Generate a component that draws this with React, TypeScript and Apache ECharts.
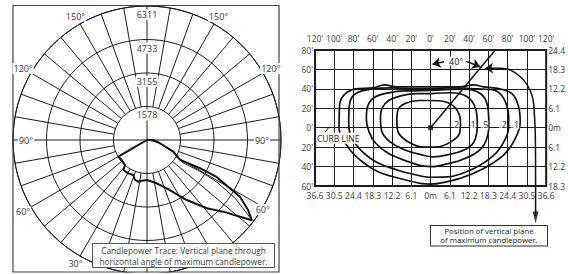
import React, { useEffect, useRef } from "react";
import * as echarts from "echarts";

// ---------- Left panel: candlepower trace (polar) ----------
const candelaTicks = [1578, 3155, 4733, 6311];
const candelaMax = 6311;
const angleLabelValues = [150, 120, 90, 60, 30];
// vertical angle from nadir (+ right side, - left side) and candela
const traceAngle = [90, 90, 76, 66, 59, 62, 62, 58.6, 55.3, 52.6, 50.5, 46.8, 41.2, 33.5, 22.2, 12.6, 0, -7.4, -11.8, -16.7, -21.4, -29.3, -38.3, -41.3, -51.7, -59.8, -60, -90];
const traceCandela = [0, 280, 630, 1356, 1820, 2830, 3710, 5130, 5790, 6220, 5680, 4930, 4275, 3390, 2460, 2090, 1884, 1933, 2006, 1966, 1770, 1800, 1800, 1570, 1520, 1560, 700, 0];
const trace2Angle = [90, 80, 66, 57.5, 59.5, 59, 56.5, 53.5, 52.6];
const trace2Candela = [0, 500, 1300, 2000, 2900, 3800, 5000, 5900, 6220];

// ---------- Right panel: isofootcandle plot ----------
const feetXLabels = ["120'", "100'", "80'", "60'", "40'", "20'", "0'", "20'", "40'", "60'", "80'", "100'", "120'"];
const meterXLabels = ["36.6", "30.5", "24.4", "18.3", "12.2", "6.1", "0m", "6.1", "12.2", "18.3", "24.4", "30.5", "36.6"];
const feetYLabels = ["60'", "40'", "20'", "0'", "20'", "40'", "60'", "80'"];
const meterYLabels = ["18.3", "12.2", "6.1", "0m", "6.1", "12.2", "18.3", "24.4"];

const contour2 = [[0, 28], [14, 27], [26, 20], [31, 6], [30, -6], [21, -14.6], [7, -19.8], [0, -20], [-9, -19.8], [-23, -14.6], [-33, -6], [-35, 6], [-34, 18], [-26.5, 25], [-12, 28], [0, 28]];
const contour1 = [[0, 35], [21, 36], [38, 31.8], [46.7, 19.7], [48.5, 2.6], [45, -14.6], [34.7, -23], [17.5, -28], [3, -30], [-9, -28], [-26.5, -23], [-42, -14.6], [-50.5, -4.3], [-52, 9.5], [-50.5, 19.7], [-43.6, 28], [-30, 33], [-15, 35], [0, 35]];
const contour05 = [[0, 38.5], [20, 39.5], [35, 39.7], [52, 35], [59, 23], [60.5, 2.6], [57, -14.6], [48.5, -25], [31, -33.5], [10.6, -38.7], [3, -40], [-10, -39], [-23, -35], [-43.6, -26.6], [-57, -16], [-64, -4], [-66.7, 9.5], [-65, 23], [-57, 32], [-37, 37], [-20, 38], [0, 38.5]];
const contour02 = [[0, 40], [20, 41], [48, 40], [66, 38.6], [76, 30], [81, 12], [81, 0], [76, -14.6], [66, -28], [45, -42], [17.5, -50.7], [0, -51], [-9, -50], [-33, -44], [-57, -35], [-74.5, -21], [-83, -7.7], [-85, 6], [-84, 25], [-78, 35], [-60, 40], [-40, 41], [-20, 40], [0, 40]];
const contour01 = [[0, 42], [30, 42], [45, 44], [55, 42], [72, 40], [84.5, 35], [91, 23], [93, 6], [88, -11], [76, -28], [55, -42], [31, -52], [0, -58], [-9, -57.5], [-33, -52], [-54, -45.5], [-71, -35], [-85, -21], [-95, -1], [-94.5, 23], [-90, 33.5], [-78, 40], [-60, 41], [-48, 44], [-35, 42], [-15, 42], [0, 42]];
const contourNames = ["2", "1", ".5", ".2", ".1"];
const contourLabelPos = [[27, 3], [44, 3], [56, 3], [75, 3], [88, 3]];
const maxPlaneAngle = 40;
const positionArrowPath = [[60, 61.2], [72, 61.3], [83, 59.3], [96.6, 49], [105.2, 33.5], [107.8, 13], [108.8, -14.6], [109, -60], [109, -91]];

const FONT = "'Open Sans', 'DejaVu Sans', sans-serif";
const INK = "#1c1c1c";
const TXT = "#3a3a3a";

export default function App() {
  const ref = useRef<HTMLDivElement>(null);
  useEffect(() => {
    const chart = echarts.init(ref.current!, null, { renderer: "svg" });
    const cx = 147, cy = 140, R = 134;
    const toPolar = (a: number) => 180 - a;
    const series: any[] = [];

    // spokes every 10 degrees, from the inner ring out
    for (let a = 0; a < 360; a += 10) {
      if (a % 90 === 0) continue;
      series.push({
        type: "line", coordinateSystem: "polar", polarIndex: 0, symbol: "none", silent: true,
        data: [[candelaTicks[0], a], [candelaMax, a]],
        lineStyle: { color: INK, width: 1 },
      });
    }
    series.push({
      type: "line", coordinateSystem: "polar", symbol: "none", silent: true,
      data: [[candelaMax, 0], [0, 0], [candelaMax, 180]], lineStyle: { color: INK, width: 1 },
    });
    series.push({
      type: "line", coordinateSystem: "polar", symbol: "none", silent: true,
      data: [[candelaMax, 90], [0, 90], [candelaMax, 270]], lineStyle: { color: INK, width: 1 },
    });
    series.push({
      type: "line", coordinateSystem: "polar", symbol: "none", silent: true,
      data: trace2Angle.map((a, i) => [trace2Candela[i], toPolar(a)]),
      lineStyle: { color: INK, width: 1 },
    });
    series.push({
      type: "line", coordinateSystem: "polar", symbol: "none", silent: true,
      data: traceAngle.map((a, i) => [traceCandela[i], toPolar(a)]),
      lineStyle: { color: "#111", width: 2 },
    });

    // right chart
    const contours = [contour2, contour1, contour05, contour02, contour01];
    contours.forEach((c) => {
      series.push({
        type: "line", xAxisIndex: 0, yAxisIndex: 0, symbol: "none", silent: true, smooth: 0.35,
        data: c, lineStyle: { color: "#111", width: 1.7 }, clip: false,
      });
    });
    const diagX = 80 * Math.tan((maxPlaneAngle * Math.PI) / 180);
    series.push({
      type: "line", xAxisIndex: 0, yAxisIndex: 0, symbol: "none", silent: true,
      data: [[0, 0], [diagX, 80]], lineStyle: { color: "#111", width: 1.5 },
      markLine: {
        silent: true, symbol: ["none", "arrow"], symbolSize: 8,
        label: { show: false },
        lineStyle: { type: "solid", color: "#111", width: 1.5 },
        data: [
          [{ coord: [14, 68] }, { coord: [2, 65.3] }],
          [{ coord: [37, 68.3] }, { coord: [51.5, 62.8] }],
          [{ coord: [64, 61.3] }, { coord: [56.5, 61] }],
        ],
      },
    });
    series.push({
      type: "line", xAxisIndex: 0, yAxisIndex: 0, symbol: "none", silent: true, smooth: 0.4, clip: false,
      data: positionArrowPath, lineStyle: { color: "#111", width: 1.5 },
    });
    series.push({
      type: "scatter", xAxisIndex: 0, yAxisIndex: 0, silent: true, clip: false,
      symbol: "triangle", symbolSize: [6, 12], symbolRotate: 180,
      data: [[109, -92.5]], itemStyle: { color: "#111" },
    });
    series.push({
      type: "scatter", xAxisIndex: 0, yAxisIndex: 0, silent: true,
      symbol: "rect", symbolSize: 5, data: [[0, 0]], itemStyle: { color: "#111" }, z: 5,
    });
    series.push({
      type: "line", xAxisIndex: 0, yAxisIndex: 0, symbol: "none", silent: true,
      data: [[-109.3, -4.3], [-105.9, 0]], lineStyle: { color: "#111", width: 1 },
    });

    const idx = (v: number, lo: number) => Math.round((v - lo) / 20);
    const axLabel = { fontSize: 8.5, fontFamily: FONT, color: TXT, showMinLabel: true, showMaxLabel: true, hideOverlap: false };

    chart.setOption({
      animation: false,
      backgroundColor: "#fff",
      polar: { center: [cx, cy], radius: R },
      radiusAxis: {
        type: "value", min: 0, max: candelaMax, interval: candelaMax / 4,
        axisLine: { show: false }, axisTick: { show: false }, axisLabel: { show: false },
        splitLine: { show: true, lineStyle: { color: INK, width: 1 } },
      },
      angleAxis: {
        type: "value", min: 0, max: 360, startAngle: 90, clockwise: true,
        axisLine: { show: true, lineStyle: { color: INK, width: 1 } },
        axisTick: { show: false }, axisLabel: { show: false }, splitLine: { show: false },
      },
      grid: { left: 315, top: 50, width: 233, height: 136, show: true, borderColor: INK, borderWidth: 2 },
      xAxis: [
        {
          type: "value", position: "bottom", min: -120, max: 120, interval: 20,
          axisLine: { show: false }, axisTick: { show: false },
          splitLine: { show: true, lineStyle: { color: INK, width: 1 } },
          axisLabel: { ...axLabel, margin: 5, formatter: (v: number) => meterXLabels[idx(v, -120)] },
        },
        {
          type: "value", position: "top", min: -120, max: 120, interval: 20,
          axisLine: { show: false }, axisTick: { show: false }, splitLine: { show: false },
          axisLabel: { ...axLabel, margin: 7, formatter: (v: number) => feetXLabels[idx(v, -120)] },
        },
      ],
      yAxis: [
        {
          type: "value", position: "left", min: -60, max: 80, interval: 20,
          axisLine: { show: false }, axisTick: { show: false },
          splitLine: { show: true, lineStyle: { color: INK, width: 1 } },
          axisLabel: { ...axLabel, margin: 2, formatter: (v: number) => feetYLabels[idx(v, -60)] },
        },
        {
          type: "value", position: "right", min: -60, max: 80, interval: 20,
          axisLine: { show: false }, axisTick: { show: false }, splitLine: { show: false },
          axisLabel: { ...axLabel, margin: 2, formatter: (v: number) => meterYLabels[idx(v, -60)] },
        },
      ],
      series,
    });

    // graphic: labels, boxes
    const px = (p: number[]) => chart.convertToPixel({ gridIndex: 0 }, p) as number[];
    const graphic: any[] = [];
    graphic.push({
      type: "rect", z: 99, silent: true,
      shape: { x: 0, y: 272.5, width: 300, height: 5 }, style: { fill: "#fff" },
    });
    graphic.push({
      type: "rect", z: 100, silent: true,
      shape: { x: 13, y: 5.5, width: 266, height: 266.5 },
      style: { fill: "none", stroke: "#444", lineWidth: 1.2 },
    });
    candelaTicks.forEach((t) => {
      graphic.push({
        type: "text", z: 100, silent: true,
        style: {
          text: String(t), x: cx, y: cy - (R * t) / candelaMax + 8.5, align: "center", verticalAlign: "middle",
          fontSize: 9, fontFamily: FONT, fill: TXT, backgroundColor: "#fff", padding: [1, 1],
        },
      });
    });
    angleLabelValues.forEach((v) => {
      [-1, 1].forEach((side) => {
        if (v === 30 && side > 0) return; // hidden by the caption box
        let rr = 143;
        let ang = v;
        if (v === 90) rr = side < 0 ? 121 : 115;
        if (v === 60 && side > 0) { rr = 135; ang = 59; }
        const t = (ang * Math.PI) / 180;
        graphic.push({
          type: "text", z: 100, silent: true,
          style: {
            text: v + "°", x: cx + side * rr * Math.sin(t), y: cy + rr * Math.cos(t),
            align: "center", verticalAlign: "middle", fontSize: 9, fontFamily: FONT, fill: TXT,
            backgroundColor: "#fff", padding: [1, 1],
          },
        });
      });
    });
    graphic.push({
      type: "rect", z: 101, silent: true,
      shape: { x: 92.5, y: 243.5, width: 182, height: 24 },
      style: { fill: "#fff", stroke: "#555", lineWidth: 1 },
    });
    ["Candlepower Trace: Vertical plane through", "horizontal angle of maximum candlepower."].forEach((line, i) => {
      graphic.push({
        type: "text", z: 102, silent: true,
        style: {
          text: line, x: 183.5, y: 250 + i * 11.5, align: "center", verticalAlign: "middle",
          fontSize: 8.3, fontFamily: FONT, fill: TXT,
        },
      });
    });
    graphic.push({
      type: "rect", z: 101, silent: true,
      shape: { x: 430.5, y: 225.5, width: 117, height: 20.5 },
      style: { fill: "#fff", stroke: "#333", lineWidth: 1 },
    });
    ["Position of vertical plane", "of maximum candlepower."].forEach((line, i) => {
      graphic.push({
        type: "text", z: 102, silent: true,
        style: {
          text: line, x: 489, y: 231.3 + i * 9, align: "center", verticalAlign: "middle",
          fontSize: 7.8, fontFamily: FONT, fill: "#222",
        },
      });
    });
    contourNames.forEach((n, i) => {
      const p = px(contourLabelPos[i]);
      graphic.push({
        type: "text", z: 100, silent: true,
        style: {
          text: n, x: p[0], y: p[1], align: "center", verticalAlign: "middle",
          fontSize: 9, fontFamily: FONT, fill: "#222", backgroundColor: "#fff", padding: [0, 0],
        },
      });
    });
    const pa = px([26.5, 68.5]);
    graphic.push({
      type: "text", z: 100, silent: true,
      style: {
        text: maxPlaneAngle + "°", x: pa[0], y: pa[1], align: "center", verticalAlign: "middle",
        fontSize: 9, fontFamily: FONT, fill: "#222", backgroundColor: "#fff", padding: [0, 1],
      },
    });
    const pc = px([-119, -10.8]);
    graphic.push({
      type: "text", z: 100, silent: true,
      style: {
        text: "CURB LINE", x: pc[0], y: pc[1], align: "left", verticalAlign: "middle",
        fontSize: 8.5, fontFamily: FONT, fill: "#222", backgroundColor: "#fff", padding: [1, 1],
      },
    });
    chart.setOption({ graphic });
    return () => chart.dispose();
  }, []);
  return (
    <div
      ref={ref}
      style={{ position: "absolute", left: 0, top: 0, width: 568, height: 274, background: "#fff" }}
    />
  );
}
